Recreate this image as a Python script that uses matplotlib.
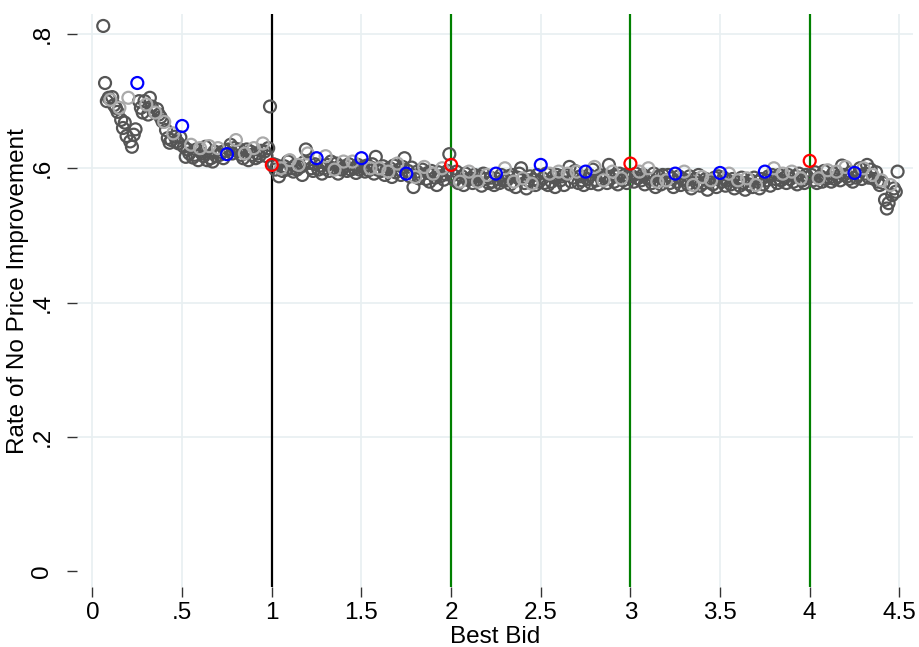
import numpy as np
import matplotlib
matplotlib.use('Agg')
import matplotlib.pyplot as plt

plt.rcParams['font.family'] = ['Liberation Sans', 'DejaVu Sans']

# rate of no price improvement at each best bid, one value per cent
rate_0 = [.812, .727, .700, .705,
          .702, .706, .694, .690, .684, .690, .672, .660, .668, .648,
          .705, .640, .632, .650, .658, .727, .700, .690, .683, .700,
          .695, .680, .705, .692, .685, .683, .688, .680, .676, .670,
          .669, .657, .645, .638, .642, .652, .647, .640, .637, .646,
          .663, .632, .617, .628, .622, .635, .616, .620, .628, .612,
          .630, .622, .618, .632, .612, .633, .615, .610, .625, .618,
          .630, .620, .624, .615, .626, .621, .628, .635, .622, .630,
          .642, .625, .628, .620, .615, .622, .628, .612, .625, .620,
          .630, .615, .622, .618, .626, .637, .625, .618, .630, .692]
rate_1 = [.605, .606, .598, .604, .588, .600, .596, .603, .598, .610,
          .612, .600, .595, .604, .598, .605, .602, .590, .609, .628,
          .622, .608, .600, .596, .606, .615, .598, .604, .592, .600,
          .618, .605, .596, .610, .600, .598, .607, .592, .603, .598,
          .610, .603, .596, .606, .598, .610, .600, .593, .605, .598,
          .615, .602, .595, .604, .597, .600, .606, .592, .617, .598,
          .600, .596, .603, .590, .598, .595, .600, .587, .604, .594,
          .607, .598, .590, .602, .615, .592, .596, .588, .601, .572,
          .587, .595, .585, .590, .598, .602, .584, .593, .580, .596,
          .592, .586, .575, .594, .588, .600, .583, .591, .596, .621]
rate_2 = [.605, .590, .582, .595, .578, .580, .588, .575, .592, .583,
          .595, .585, .578, .590, .582, .580, .588, .574, .592, .584,
          .590, .578, .586, .580, .575, .592, .584, .578, .590, .582,
          .600, .582, .588, .576, .590, .580, .572, .586, .592, .600,
          .585, .578, .570, .582, .588, .577, .583, .575, .590, .580,
          .605, .585, .578, .592, .575, .592, .580, .587, .572, .590,
          .595, .582, .588, .575, .590, .592, .602, .580, .586, .596,
          .595, .578, .588, .582, .575, .595, .584, .590, .578, .598,
          .602, .582, .576, .590, .584, .582, .588, .578, .605, .585,
          .595, .580, .588, .576, .592, .585, .582, .590, .578, .588]
rate_3 = [.607, .588, .580, .592, .585, .595, .582, .590, .576, .586,
          .600, .584, .578, .592, .572, .580, .588, .576, .590, .582,
          .582, .590, .578, .585, .572, .592, .580, .588, .575, .584,
          .595, .582, .576, .588, .570, .575, .584, .578, .590, .574,
          .587, .578, .584, .568, .580, .582, .576, .586, .572, .588,
          .593, .580, .586, .574, .582, .592, .576, .584, .570, .580,
          .582, .574, .586, .578, .568, .585, .576, .582, .572, .586,
          .575, .580, .570, .584, .576, .595, .582, .588, .574, .590,
          .600, .584, .578, .590, .582, .592, .586, .578, .590, .584,
          .595, .580, .588, .576, .592, .585, .582, .578, .590, .586]
rate_4 = [.611, .590, .582, .594, .578, .585, .588, .580, .596, .584,
          .597, .586, .580, .592, .584, .595, .588, .582, .604, .590,
          .602, .588, .584, .594, .580, .593, .586, .590, .600, .584,
          .600, .592, .605, .586, .598, .590, .584, .594, .580, .575,
          .582, .578, .553, .540, .548, .575, .560, .570, .565, .595]

rate = np.array(rate_0 + rate_1 + rate_2 + rate_3 + rate_4)
cents = np.arange(6, 6 + len(rate))
bid = cents / 100

xticks = [0, .5, 1, 1.5, 2, 2.5, 3, 3.5, 4, 4.5]
xticklabels = ['0', '.5', '1', '1.5', '2', '2.5', '3', '3.5', '4', '4.5']
yticks = [0, .2, .4, .6, .8]
yticklabels = ['0', '.2', '.4', '.6', '.8']

dark = '#555555'
light = '#aaaaaa'

fig = plt.figure(figsize=(9.2, 6.47), dpi=100)
ax = fig.add_axes([77 / 920, 60 / 647, 836 / 920, 573 / 647])

for s in ax.spines.values():
    s.set_visible(False)

# grid
for y in yticks[1:]:
    ax.axhline(y, color='#e8eff1', lw=1.2, zorder=0)
for x in xticks:
    ax.axvline(x, color='#e8eff1', lw=1.2, zorder=0)

ax.axvline(1, color='black', lw=1.6, zorder=1)
for x in [2, 3, 4]:
    ax.axvline(x, color='#008000', lw=1.6, zorder=1)

is_red = cents % 100 == 0
is_blue = (cents % 25 == 0) & ~is_red
is_light = (cents % 5 == 0) & ~is_red & ~is_blue
is_dark = ~(is_red | is_blue | is_light)

for mask, col in [(is_dark, dark), (is_light, light), (is_blue, 'blue'), (is_red, 'red')]:
    ax.scatter(bid[mask], rate[mask], s=74, facecolors='none', edgecolors=col,
               linewidths=1.6, zorder=2)

ax.set_xlim(-0.0864, 4.576)
ax.set_ylim(-0.0238, 0.8298)

ax.set_xticks(xticks)
ax.set_xticklabels(xticklabels)
ax.set_yticks(yticks)
ax.set_yticklabels(yticklabels, rotation=90, va='center')
ax.tick_params(axis='both', length=7, width=1, color='#333333', labelsize=17.5)
ax.tick_params(axis='x', pad=4)
ax.tick_params(axis='y', pad=10)

ax.set_xlabel('Best Bid', fontsize=17.5)
ax.xaxis.set_label_coords(0.5, -0.068)
ax.set_ylabel('Rate of No Price Improvement', fontsize=17.5)
ax.yaxis.set_label_coords(-0.058, 0.517)

fig.savefig('out.png', dpi=100)
